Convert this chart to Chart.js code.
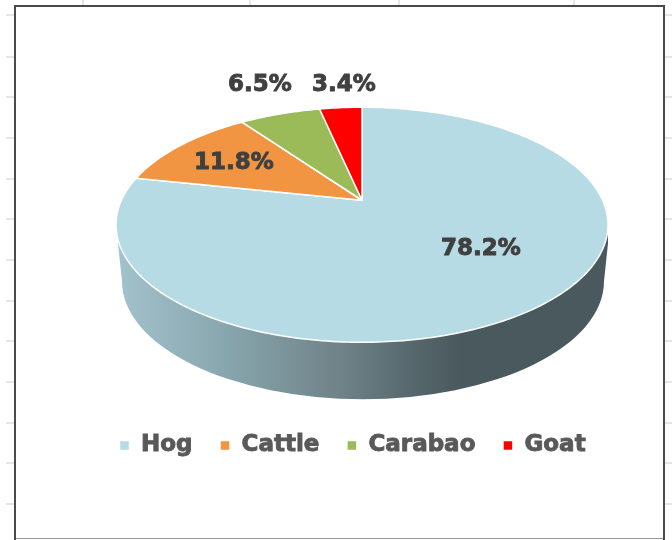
<!DOCTYPE html>
<html>
<head>
<meta charset="utf-8">
<script src="https://cdn.jsdelivr.net/npm/chart.js"></script>
<style>
  html, body { margin: 0; background: #fff; }
  #wrap { width: 672px; height: 540px; }
  canvas { filter: blur(0.6px); }
</style>
</head>
<body>
<div id="wrap"><canvas id="myChart" width="672" height="540"></canvas></div>
<script>
const categories = ['Hog', 'Cattle', 'Carabao', 'Goat'];
const shares = [78.2, 11.8, 6.5, 3.4];
const sliceColors = ['#b7dbe5', '#f29543', '#9bbb59', '#ff0000'];

// where the percent labels sit (centre of text), same order as categories
const labelX = [481, 234, 260, 344];
const labelY = [249.5, 163.5, 85.5, 85.5];

// sheet gridlines showing round the chart frame
const gridXs = [83, 250, 399, 574];
const gridYs = [15, 57, 97, 138, 179, 219, 260, 301, 341, 382, 423, 463, 504];

// perspective of the top disc, px
const RX = 240.6, RY = 112.4, PERSP = 0.2085, SHIFT_Y = -3;

function project(el, a, r) {
  const u = Math.cos(a) * r, v = -Math.sin(a) * r;
  const d = 1 + PERSP * v;
  return { x: el.x + RX * u / d, y: el.y + SHIFT_Y - RY * v / d };
}

// slices are drawn on the tilted disc instead of a flat circle
Chart.ArcElement.prototype.draw = function (ctx) {
  const o = this.options;
  ctx.save();
  ctx.beginPath();
  ctx.moveTo(this.x, this.y + SHIFT_Y);
  const steps = Math.max(4, Math.ceil((this.endAngle - this.startAngle) * 60));
  for (let i = 0; i <= steps; i++) {
    const a = this.startAngle + (this.endAngle - this.startAngle) * i / steps;
    const p = project(this, a, 1);
    ctx.lineTo(p.x, p.y);
  }
  ctx.closePath();
  ctx.fillStyle = o.backgroundColor;
  ctx.fill();
  ctx.lineWidth = o.borderWidth;
  ctx.strokeStyle = o.borderColor;
  ctx.lineJoin = 'round';
  ctx.stroke();
  ctx.restore();
};

const framePlugin = {
  id: 'frame',
  beforeDraw(chart) {
    const ctx = chart.ctx;
    ctx.save();
    ctx.strokeStyle = '#d6d6d6';
    ctx.lineWidth = 1.2;
    gridXs.forEach(x => { ctx.beginPath(); ctx.moveTo(x, 0); ctx.lineTo(x, 6); ctx.stroke(); });
    gridYs.forEach(y => {
      ctx.beginPath(); ctx.moveTo(6, y); ctx.lineTo(15, y); ctx.stroke();
      ctx.beginPath(); ctx.moveTo(664, y); ctx.lineTo(672, y); ctx.stroke();
    });
    ctx.strokeStyle = '#999';
    ctx.lineWidth = 1.2;
    ctx.beginPath(); ctx.moveTo(15, 538.5); ctx.lineTo(664, 538.5); ctx.stroke();
    ctx.strokeStyle = '#4a4a4a';
    ctx.lineWidth = 2;
    ctx.beginPath(); ctx.moveTo(15, 540); ctx.lineTo(15, 6); ctx.lineTo(664, 6); ctx.lineTo(664, 540); ctx.stroke();
    ctx.restore();
  }
};

const wallPlugin = {
  id: 'wall',
  beforeDatasetsDraw(chart) {
    const ctx = chart.ctx;
    const el = chart.getDatasetMeta(0).data[0];
    const cx = el.x + 1, cy = el.y + SHIFT_Y + 81;
    const g = ctx.createLinearGradient(118, 0, 608, 0);
    g.addColorStop(0, '#a2c2cc');
    g.addColorStop(0.2, '#8aa9b1');
    g.addColorStop(0.45, '#6f8388');
    g.addColorStop(0.6, '#56686d');
    g.addColorStop(0.7, '#4a595d');
    g.addColorStop(1, '#4a595d');
    ctx.save();
    ctx.beginPath();
    ctx.moveTo(cx - 245, cy - 50);
    ctx.lineTo(cx - 245, cy - 38);
    ctx.ellipse(cx, cy, 241, 118, 0, Math.PI, 0, true);
    ctx.lineTo(cx + 245, cy - 38);
    ctx.lineTo(cx + 245, cy - 50);
    ctx.closePath();
    ctx.fillStyle = g;
    ctx.fill();
    ctx.restore();
  }
};

const labelPlugin = {
  id: 'percentLabels',
  afterDatasetsDraw(chart) {
    const ctx = chart.ctx;
    ctx.save();
    ctx.font = 'bold 23px "DejaVu Sans"';
    ctx.fillStyle = '#404040';
    ctx.strokeStyle = '#404040';
    ctx.lineWidth = 0.9;
    ctx.textAlign = 'center';
    ctx.textBaseline = 'middle';
    shares.forEach((v, i) => {
      const t = v.toFixed(1) + '%';
      ctx.fillText(t, labelX[i], labelY[i]);
      ctx.strokeText(t, labelX[i], labelY[i]);
    });
    ctx.restore();
  }
};

// legend text in the picture is heavier than plain bold, go over it once more
const legendWeightPlugin = {
  id: 'legendWeight',
  afterDraw(chart) {
    const ctx = chart.ctx;
    const lg = chart.legend;
    ctx.save();
    ctx.font = 'bold 23px "DejaVu Sans"';
    ctx.strokeStyle = '#595959';
    ctx.lineWidth = 0.9;
    ctx.textAlign = 'left';
    ctx.textBaseline = 'middle';
    lg.legendHitBoxes.forEach((b, i) => {
      ctx.strokeText(categories[i], b.left + 10 + 11.5, b.top + 23 / 2);
    });
    ctx.restore();
  }
};

new Chart(document.getElementById('myChart'), {
  type: 'pie',
  data: {
    labels: categories,
    datasets: [{
      data: shares,
      backgroundColor: sliceColors,
      borderColor: '#ffffff',
      borderWidth: 1.5
    }]
  },
  options: {
    responsive: false,
    animation: false,
    layout: { padding: { left: 92, right: 40, top: 0, bottom: 73 } },
    plugins: {
      tooltip: { enabled: false },
      legend: {
        position: 'bottom',
        align: 'start',
        labels: {
          boxWidth: 10,
          boxHeight: 10,
          padding: 27.5,
          color: '#595959',
          font: { family: '"DejaVu Sans"', size: 23, weight: 'bold' }
        }
      }
    }
  },
  plugins: [framePlugin, wallPlugin, labelPlugin, legendWeightPlugin]
});
</script>
</body>
</html>
